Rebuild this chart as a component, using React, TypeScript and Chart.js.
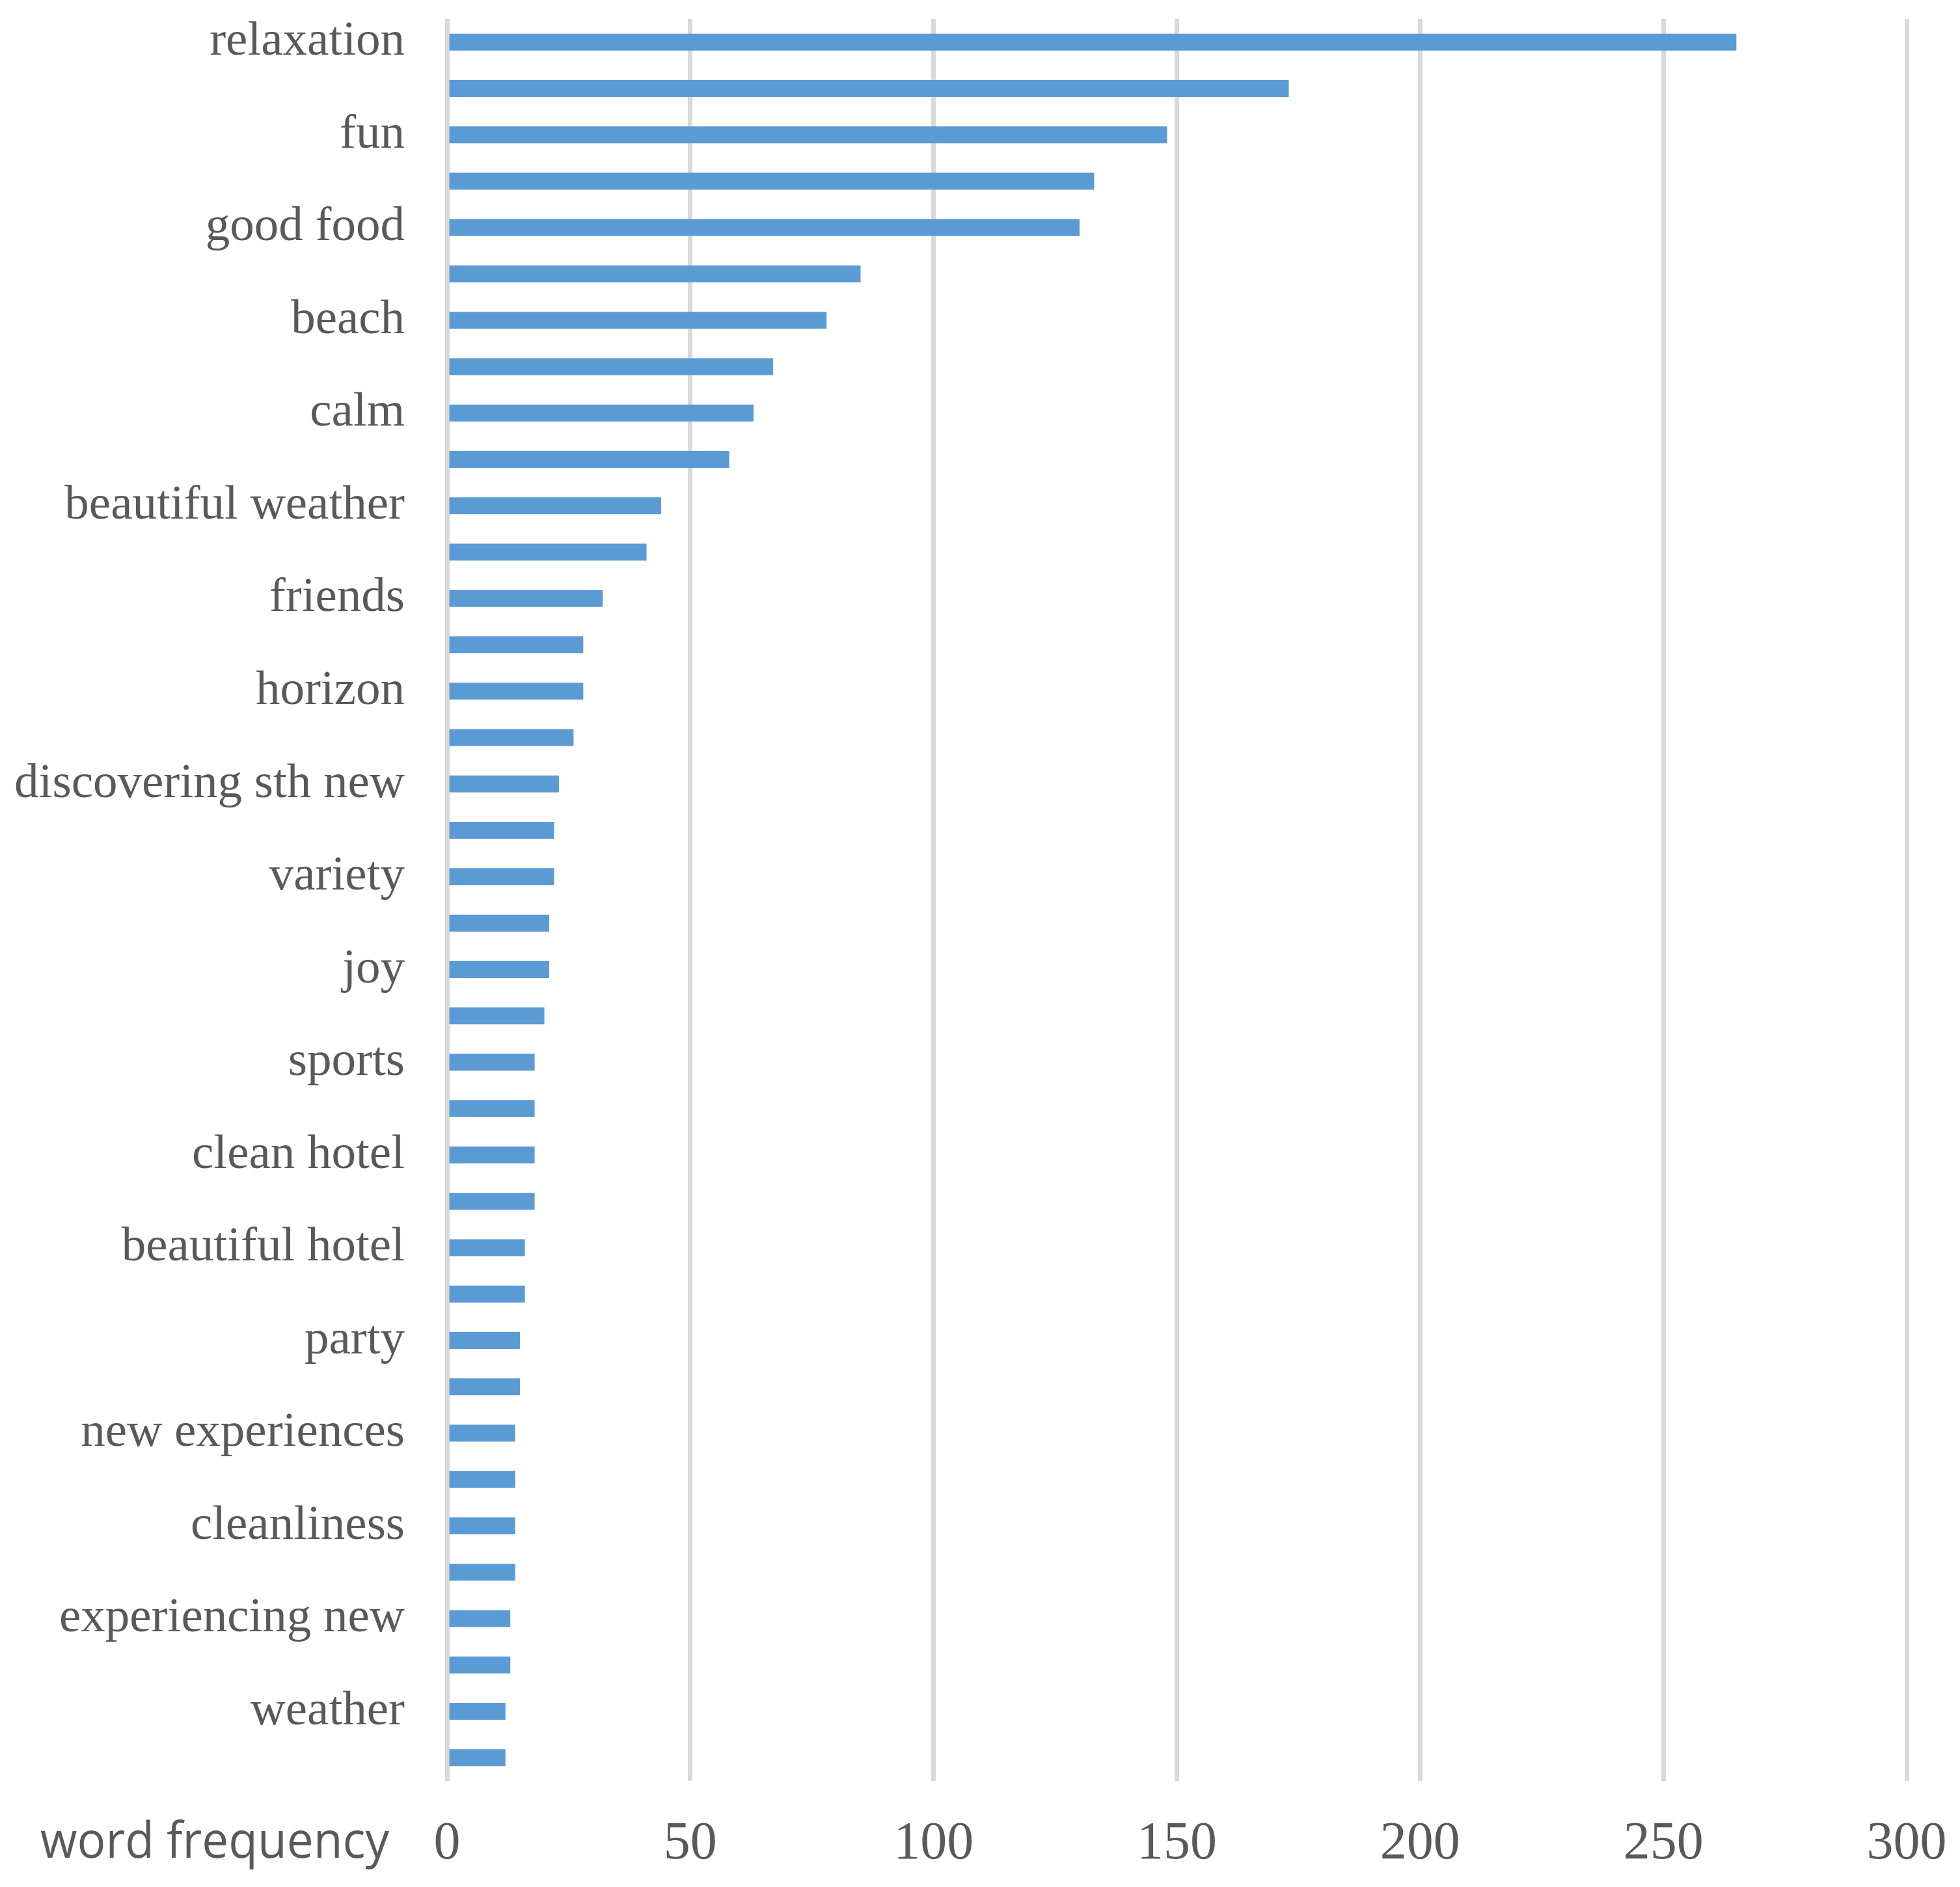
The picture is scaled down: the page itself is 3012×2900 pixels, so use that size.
import React, { useEffect, useRef } from "react";
import { Chart, registerables } from "chart.js";

Chart.register(...registerables);

const categories: string[] = [
  "relaxation", "", "fun", "", "good food", "", "beach", "", "calm", "",
  "beautiful weather", "", "friends", "", "horizon", "", "discovering sth new", "",
  "variety", "", "joy", "", "sports", "", "clean hotel", "", "beautiful hotel", "",
  "party", "", "new experiences", "", "cleanliness", "", "experiencing new", "",
  "weather", "",
];

const frequencies: number[] = [
  265, 173, 148, 133, 130, 85, 78, 67, 63, 58, 44, 41, 32, 28, 28, 26, 23, 22, 22,
  21, 21, 20, 18, 18, 18, 18, 16, 16, 15, 15, 14, 14, 14, 14, 13, 13, 12, 12,
];

const xTicks: number[] = [0, 50, 100, 150, 200, 250, 300];
const axisLabel = "word frequency";

const TEXT = "#595959";
const GRID = "#D9D9D9";
const BAR = "#5B9BD5";
const SERIF = "Liberation Serif";

Chart.defaults.font.family = SERIF;
Chart.defaults.color = TEXT;

const axisLabelPlugin = {
  id: "axisLabel",
  afterDraw(chart: any) {
    const ctx = chart.ctx;
    const xs = chart.scales.x;
    ctx.save();
    ctx.fillStyle = TEXT;
    ctx.font = '76px "Open Sans"';
    ctx.textBaseline = "middle";
    ctx.textAlign = "left";
    const w = ctx.measureText(axisLabel).width;
    const target = 536;
    const right = xs.left - 89;
    const y = xs.top + 96;
    ctx.translate(right - target, y);
    ctx.scale(target / w, 1);
    ctx.fillText(axisLabel, 0, 0);
    ctx.restore();
  },
};

export default function App() {
  const ref = useRef<HTMLCanvasElement | null>(null);
  useEffect(() => {
    if (!ref.current) return;
    const chart = new Chart(ref.current, {
      type: "bar",
      data: {
        labels: categories,
        datasets: [
          {
            data: frequencies,
            backgroundColor: BAR,
            borderWidth: 0,
            barPercentage: 0.365,
            categoryPercentage: 1,
          },
        ],
      },
      options: {
        indexAxis: "y",
        animation: false,
        responsive: false,
        devicePixelRatio: 1,
        layout: { padding: { top: 29, right: 82, left: 0, bottom: 0 } },
        plugins: { legend: { display: false }, tooltip: { enabled: false } },
        scales: {
          x: {
            type: "linear",
            min: 0,
            max: 300,
            afterBuildTicks: (s: any) => {
              s.ticks = xTicks.map((v) => ({ value: v }));
            },
            afterFit: (s: any) => {
              s.height = 163;
              s.paddingLeft = 0;
              s.paddingRight = 0;
            },
            grid: { color: GRID, lineWidth: 7, drawTicks: false },
            border: { display: false },
            ticks: {
              color: TEXT,
              padding: 48,
              font: { family: SERIF, size: 82 },
              maxRotation: 0,
              autoSkip: false,
            },
          },
          y: {
            afterFit: (s: any) => {
              s.width = 687;
              s.paddingTop = 0;
              s.paddingBottom = 0;
            },
            grid: { display: false, drawTicks: false },
            border: { display: false },
            ticks: {
              color: TEXT,
              padding: 65,
              autoSkip: false,
              font: { family: SERIF, size: 75 },
            },
          },
        },
      },
      plugins: [axisLabelPlugin],
    } as any);
    return () => chart.destroy();
  }, []);
  return (
    <div style={{ position: "absolute", left: 0, top: 0, width: 3012, height: 2900, background: "#fff" }}>
      <canvas ref={ref} width={3012} height={2900} style={{ width: 3012, height: 2900, display: "block" }} />
    </div>
  );
}
